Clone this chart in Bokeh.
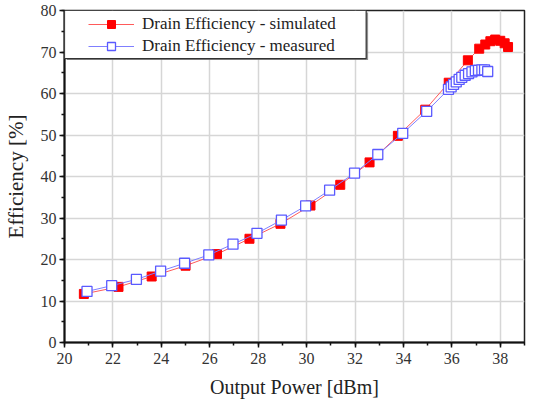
from bokeh.plotting import figure
from bokeh.models import (Range1d, SingleIntervalTicker, Legend, LegendItem,
                          BoxAnnotation)
from bokeh.embed import file_html
from bokeh.resources import INLINE

# ---- data ----
sim_power = [20.80, 22.23, 23.60, 25.00, 26.30, 27.64, 28.92, 30.16, 31.39,
             32.60, 33.77, 34.90, 35.87, 36.66, 37.13, 37.38, 37.59, 37.79,
             38.00, 38.18, 38.32]
sim_eff = [11.7, 13.4, 15.9, 18.5, 21.3, 25.0, 28.6, 33.0, 38.0,
           43.4, 49.8, 56.1, 62.6, 68.0, 70.8, 71.8, 72.6, 73.0,
           72.7, 72.1, 71.2]

meas_power = [20.93, 21.95, 22.97, 23.97, 24.96, 25.96, 26.96, 27.95, 28.96,
              29.96, 30.95, 31.98, 32.94, 33.97, 34.96, 35.86, 35.97, 36.07,
              36.18, 36.30, 36.41, 36.55, 36.69, 36.83, 36.97, 37.10, 37.24,
              37.35, 37.48]
meas_eff = [12.3, 13.7, 15.2, 17.2, 19.1, 21.1, 23.7, 26.3, 29.5,
            32.9, 36.7, 40.8, 45.3, 50.4, 55.7, 61.0, 61.6, 62.2,
            62.8, 63.4, 63.9, 64.4, 64.8, 65.2, 65.5, 65.6, 65.7,
            65.7, 65.3]

x_label = "Output Power [dBm]"
y_label = "Efficiency [%]"
sim_name = "Drain Efficiency - simulated"
meas_name = "Drain Efficiency - measured"

FONT = "Liberation Serif"

p = figure(width=526, height=400, output_backend="svg", toolbar_location=None,
           x_range=Range1d(20, 39), y_range=Range1d(0, 80),
           min_border_left=61, min_border_top=10, min_border_right=2,
           min_border_bottom=56)

p.background_fill_color = "white"
p.border_fill_color = "white"
p.outline_line_color = "#222222"
p.outline_line_width = 1.5

# axes
p.xaxis.ticker = SingleIntervalTicker(interval=2, num_minor_ticks=2)
p.yaxis.ticker = SingleIntervalTicker(interval=10, num_minor_ticks=2)
for ax in (p.xaxis[0], p.yaxis[0]):
    ax.axis_line_color = "#111111"
    ax.axis_line_width = 2
    ax.major_tick_line_color = "#111111"
    ax.major_tick_line_width = 1.5
    ax.minor_tick_line_color = "#111111"
    ax.minor_tick_line_width = 1.5
    ax.major_tick_in = 0
    ax.major_tick_out = 5
    ax.minor_tick_in = 0
    ax.minor_tick_out = 3
    ax.major_label_text_font = FONT
    ax.major_label_text_font_size = "16px"
    ax.major_label_text_color = "#333333"
    ax.axis_label_text_font = FONT
    ax.axis_label_text_font_style = "normal"
    ax.axis_label_text_color = "#222222"

p.xaxis.axis_label = x_label
p.yaxis.axis_label = y_label
p.xaxis.axis_label_text_font_size = "20px"
p.yaxis.axis_label_text_font_size = "21px"
p.xaxis.major_label_standoff = 5
p.xaxis.axis_label_standoff = 9
p.yaxis.major_label_standoff = 3
p.yaxis.axis_label_standoff = 10

# grid
p.xgrid.grid_line_color = "#d6d6d6"
p.ygrid.grid_line_color = "#d6d6d6"
p.xgrid.grid_line_width = 1.5
p.ygrid.grid_line_width = 1.5

# series
r_line = p.line(sim_power, sim_eff, line_color="#ff5a5a", line_width=1)
r_pts = p.scatter(sim_power, sim_eff, marker="square", size=9,
                  fill_color="#ff0000", line_color="#ff0000")
b_line = p.line(meas_power, meas_eff, line_color="#7f7fff", line_width=1)
b_pts = p.scatter(meas_power, meas_eff, marker="square", size=10,
                  fill_color="white", line_color="#5a5aff", line_width=1.3)

# legend frame (shadow + box)
shadow = BoxAnnotation(left=20.1, right=32.54, top=79.5, bottom=68.1,
                       fill_color="#777777", fill_alpha=0.8,
                       line_alpha=0)
p.add_layout(shadow)
box = BoxAnnotation(left=20, right=32.46, top=80, bottom=68.4,
                    fill_color="white", fill_alpha=1.0,
                    line_color="#333333", line_width=1.2, line_alpha=1.0)
p.add_layout(box)

legend = Legend(items=[LegendItem(label=sim_name, renderers=[r_line, r_pts]),
                       LegendItem(label=meas_name, renderers=[b_line, b_pts])],
                location=(24, 286), padding=0, spacing=2, margin=0,
                glyph_width=46, glyph_height=20, label_height=20,
                label_standoff=8,
                label_text_font=FONT, label_text_font_size="17px",
                label_text_color="#222222",
                background_fill_alpha=0, border_line_alpha=0)
p.add_layout(legend, "center")

open("out.html", "w").write(file_html(p, INLINE))
